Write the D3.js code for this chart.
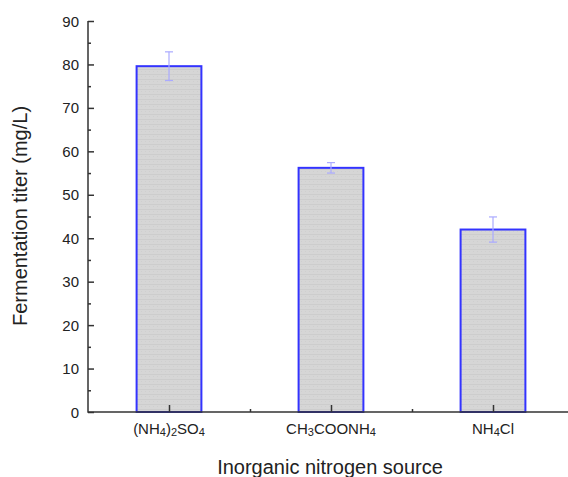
<!DOCTYPE html>
<html>
<head>
<meta charset="utf-8">
<script src="https://cdn.jsdelivr.net/npm/d3@7"></script>
<style>
  body { margin: 0; background: #fff; }
  text { font-family: "Liberation Sans", Arial, sans-serif; fill: #222; }
</style>
</head>
<body>
<svg width="568" height="477"></svg>
<script>
// category labels as [text, isSubscript] pieces
var categories = [
    [["(NH", 0], ["4", 1], [")", 0], ["2", 1], ["SO", 0], ["4", 1]],
    [["CH", 0], ["3", 1], ["COONH", 0], ["4", 1]],
    [["NH", 0], ["4", 1], ["Cl", 0]]
];
var titers = [79.6, 56.2, 42.0];
var errors = [3.3, 1.2, 2.9];
var yTicks = [0, 10, 20, 30, 40, 50, 60, 70, 80, 90];

var svg = d3.select("svg");

var x = d3.scaleLinear().domain([0.5, 3.5]).range([88, 574]);
var y = d3.scaleLinear().domain([0, 90]).range([412, 21]);
var barW = 0.4;

// bar fill pattern: light grey with faint horizontal striping
var defs = svg.append("defs");
var pat = defs.append("pattern")
    .attr("id", "hatch")
    .attr("patternUnits", "userSpaceOnUse")
    .attr("width", 4).attr("height", 5);
pat.append("rect").attr("width", 4).attr("height", 5).attr("fill", "#d6d6d6");
pat.append("rect").attr("y", 4).attr("width", 4).attr("height", 1).attr("fill", "#cdcdcd");
pat.append("rect").attr("x", 1).attr("y", 1).attr("width", 1).attr("height", 1).attr("fill", "#cfcfcf");

var data = titers.map((v, i) => ({i: i + 1, v: v, e: errors[i], label: categories[i]}));

// bars
svg.append("g").selectAll("rect")
    .data(data)
    .enter().append("rect")
    .attr("x", d => x(d.i - barW / 2))
    .attr("y", d => y(d.v))
    .attr("width", d => x(d.i + barW / 2) - x(d.i - barW / 2))
    .attr("height", d => y(0) - y(d.v))
    .attr("fill", "url(#hatch)")
    .attr("stroke", "#3333ff")
    .attr("stroke-width", 2);

// error bars
var eb = svg.append("g").attr("stroke", "#aaaaff").attr("stroke-width", 1.2);
data.forEach(d => {
    var cx = x(d.i);
    eb.append("line").attr("x1", cx).attr("x2", cx).attr("y1", y(d.v + d.e)).attr("y2", y(d.v - d.e));
    eb.append("line").attr("x1", cx - 4).attr("x2", cx + 4).attr("y1", y(d.v + d.e)).attr("y2", y(d.v + d.e));
    eb.append("line").attr("x1", cx - 4).attr("x2", cx + 4).attr("y1", y(d.v - d.e)).attr("y2", y(d.v - d.e));
});

// y axis with inward ticks
var yAxis = svg.append("g").attr("transform", "translate(88,0)")
    .call(d3.axisRight(y).tickValues(yTicks).tickSize(6).tickFormat(""));
yAxis.select(".domain").remove();
yAxis.selectAll("line").attr("stroke", "#333").attr("stroke-width", 1.5);
svg.append("g").attr("transform", "translate(88,0)")
    .call(d3.axisRight(y).tickValues(d3.range(5, 90, 10)).tickSize(3).tickFormat(""))
    .call(g => g.select(".domain").remove())
    .selectAll("line").attr("stroke", "#333").attr("stroke-width", 1.5);

svg.append("g").selectAll("text")
    .data(yTicks)
    .enter().append("text")
    .attr("x", 79)
    .attr("y", d => y(d) + 5.5)
    .attr("text-anchor", "end")
    .style("font-size", "15px")
    .text(d => d);

// x axis with inward ticks
var xAxis = svg.append("g").attr("transform", "translate(0,412)")
    .call(d3.axisTop(x).tickValues([1, 2, 3]).tickSize(7).tickFormat(""));
xAxis.select(".domain").remove();
xAxis.selectAll("line").attr("stroke", "#333").attr("stroke-width", 1.5);
svg.append("g").attr("transform", "translate(0,412)")
    .call(d3.axisTop(x).tickValues([1.5, 2.5, 3.5]).tickSize(3).tickFormat(""))
    .call(g => g.select(".domain").remove())
    .selectAll("line").attr("stroke", "#333").attr("stroke-width", 1.5);

// axis lines
svg.append("path")
    .attr("d", "M" + x(0.5) + "," + y(90) + "V" + y(0) + "H" + x(3.5))
    .attr("fill", "none")
    .attr("stroke", "#333")
    .attr("stroke-width", 1.5);

// category labels with subscripts
var cat = svg.append("g").selectAll("text")
    .data(data)
    .enter().append("text")
    .attr("x", d => x(d.i))
    .attr("y", 434)
    .attr("text-anchor", "middle")
    .style("font-size", "15px");
cat.each(function(d) {
    var t = d3.select(this);
    var prevSub = false;
    d.label.forEach(p => {
        var s = t.append("tspan").text(p[0]);
        if (p[1]) {
            s.style("font-size", "11px").attr("dy", prevSub ? 0 : 1.5);
        } else if (prevSub) {
            s.attr("dy", -1.5);
        }
        prevSub = !!p[1];
    });
});

// titles
svg.append("text")
    .attr("x", 330)
    .attr("y", 474)
    .attr("text-anchor", "middle")
    .style("font-size", "20px")
    .text("Inorganic nitrogen source");

svg.append("text")
    .attr("transform", "translate(27,216) rotate(-90)")
    .attr("text-anchor", "middle")
    .style("font-size", "20px")
    .text("Fermentation titer (mg/L)");
</script>
</body>
</html>
